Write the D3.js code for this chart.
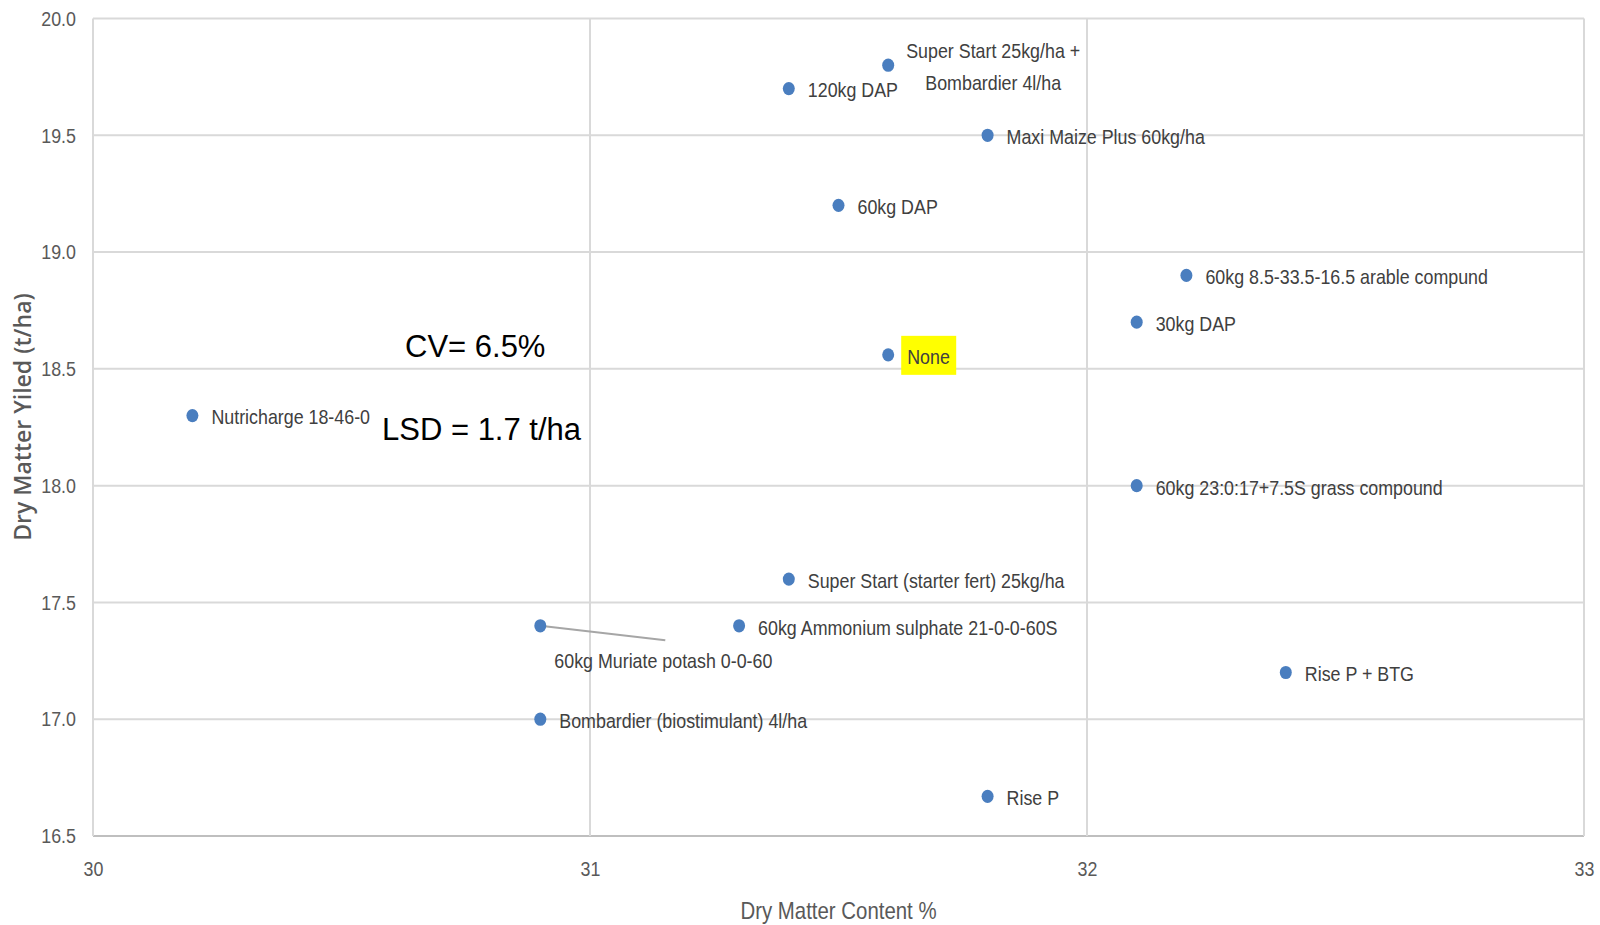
<!DOCTYPE html>
<html><head><meta charset="utf-8">
<script src="https://cdn.jsdelivr.net/npm/d3@7"></script>
<style>body{margin:0;background:#fff}svg{display:block}</style>
</head><body><svg id="c" width="1600" height="925"></svg>
<script>
const treatments = ["Super Start 25kg/ha + Bombardier 4l/ha","120kg DAP","Maxi Maize Plus 60kg/ha","60kg DAP","60kg 8.5-33.5-16.5 arable compund","30kg DAP","None","Nutricharge 18-46-0","60kg 23:0:17+7.5S grass compound","Super Start (starter fert) 25kg/ha","60kg Muriate potash 0-0-60","60kg Ammonium sulphate 21-0-0-60S","Rise P + BTG","Bombardier (biostimulant) 4l/ha","Rise P"];
const dryMatterContent = [31.6,31.4,31.8,31.5,32.2,32.1,31.6,30.2,32.1,31.4,30.9,31.3,32.4,30.9,31.8];
const dryMatterYield = [19.8,19.7,19.5,19.2,18.9,18.7,18.56,18.3,18.0,17.6,17.4,17.4,17.2,17.0,16.67];
const xTicks = [30,31,32,33];
const yTicks = [16.5,17.0,17.5,18.0,18.5,19.0,19.5,20.0];
const xTitle = "Dry Matter Content %";
const yTitle = "Dry Matter Yiled (t/ha)";
const notes = ["CV= 6.5%","LSD = 1.7 t/ha"];

const svg = d3.select("#c");
const L=93, R=1584, T=18.5, B=836;
const x = d3.scaleLinear().domain([30,33]).range([L,R]);
const y = d3.scaleLinear().domain([16.5,20]).range([B,T]);
const grid="#d9d9d9", txt="#595959";
const font = "'Liberation Sans', Arial, sans-serif";
const K = 0.85; // horizontal condensing to mimic the narrow label font

function ctext(g, tx, ty, str, opts={}){
  return g.append("text")
    .attr("transform",`translate(${tx},${ty}) scale(${opts.k||K},1)`)
    .attr("text-anchor",opts.anchor||"start")
    .attr("dy",opts.dy||"0.35em")
    .attr("fill",opts.fill||"#404040")
    .style("font-family",font).style("font-size",(opts.size||21)+"px")
    .text(str);
}

// gridlines
svg.append("g").selectAll("line").data(yTicks).join("line")
  .attr("x1",L).attr("x2",R).attr("y1",d=>y(d)).attr("y2",d=>y(d))
  .attr("stroke",d=>d===16.5?"#bfbfbf":grid).attr("stroke-width",2);
svg.append("g").selectAll("line").data(xTicks).join("line")
  .attr("y1",T).attr("y2",B).attr("x1",d=>x(d)).attr("x2",d=>x(d))
  .attr("stroke",grid).attr("stroke-width",2);

// axes (ticks via d3 axis, then restyled to condensed text)
const yAxis = d3.axisLeft(y).tickValues(yTicks).tickFormat(d3.format(".1f")).tickSize(0).tickPadding(0);
const ga = svg.append("g").attr("transform",`translate(${L-17},0)`).call(yAxis);
ga.select(".domain").remove();
ga.selectAll("text").attr("fill",txt).style("font-family",font).style("font-size","21px")
  .attr("transform",`scale(${K},1)`).attr("x",0);
const xAxis = d3.axisBottom(x).tickValues(xTicks).tickFormat(d3.format("d")).tickSize(0).tickPadding(25);
const gx = svg.append("g").attr("transform",`translate(0,${B})`).call(xAxis);
gx.select(".domain").remove();
gx.selectAll("text").attr("fill",txt).style("font-family",font).style("font-size","21px")
  .attr("transform",`scale(${K},1)`);

ctext(svg,(L+R)/2,911,xTitle,{anchor:"middle",size:24,fill:txt});
svg.append("text").attr("transform",`translate(22,417) rotate(-90)`).attr("text-anchor","middle").attr("dominant-baseline","central")
  .attr("fill",txt).style("font-family","'Open Sans', sans-serif").style("font-weight","600").style("font-size","23px").text(yTitle);

// notes
svg.append("text").attr("x",405).attr("y",357).attr("fill","#000").style("font-family",font).style("font-size","31px").text(notes[0]);
svg.append("text").attr("x",382).attr("y",440).attr("fill","#000").style("font-family",font).style("font-size","31px").text(notes[1]);

const data = treatments.map((n,i)=>({name:n,x:dryMatterContent[i],y:dryMatterYield[i]}));

// leader line for Muriate potash
const mur = data.find(d=>d.name.startsWith("60kg Muriate"));
svg.append("line").attr("x1",x(mur.x)).attr("y1",y(mur.y)).attr("x2",x(mur.x)+125).attr("y2",y(mur.y)+14.5)
  .attr("stroke","#a6a6a6").attr("stroke-width",2);

// highlight for "None"
const none = data.find(d=>d.name==="None");
svg.append("rect").attr("x",x(none.x)+13).attr("y",y(none.y)-19).attr("width",55).attr("height",39).attr("fill","#ffff00");

// points
svg.append("g").selectAll("ellipse").data(data).join("ellipse")
  .attr("cx",d=>x(d.x)).attr("cy",d=>y(d.y)).attr("rx",6).attr("ry",6.6).attr("fill","#4a7ebf");

// labels
const lg = svg.append("g");
data.forEach(d=>{
  const px=x(d.x), py=y(d.y);
  if(d.name.startsWith("Super Start 25kg")){
    ctext(lg,px+105,py-15,"Super Start 25kg/ha +",{anchor:"middle"});
    ctext(lg,px+105,py+17,"Bombardier 4l/ha",{anchor:"middle"});
  } else if(d.name.startsWith("60kg Muriate")){
    ctext(lg,px+14,py+35,d.name);
  } else {
    ctext(lg,px+19,py+1.5,d.name);
  }
});
</script></body></html>
